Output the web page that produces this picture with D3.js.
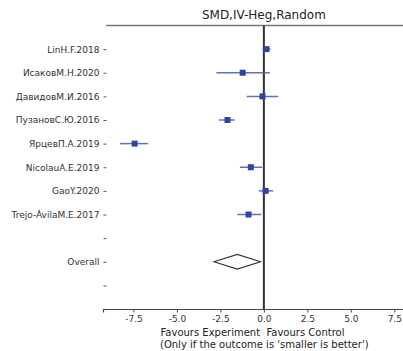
<!DOCTYPE html>
<html><head><meta charset="utf-8">
<script src="https://cdn.jsdelivr.net/npm/d3@7/dist/d3.min.js"></script>
<style>body{margin:0;background:#fff}svg{display:block;font-family:"DejaVu Sans",sans-serif}</style>
</head><body><svg id="c" width="403" height="351"></svg>
<script>
const studies = ["LinH.F.2018","ИсаковМ.Н.2020","ДавидовМ.И.2016","ПузановС.Ю.2016","ЯрцевП.А.2019","NicolauA.E.2019","GaoY.2020","Trejo-ÁvilaM.E.2017"];
const smd   = [0.15, -1.22, -0.08, -2.09, -7.43, -0.75, 0.10, -0.88];
const lower = [-0.08, -2.73, -0.99, -2.59, -8.28, -1.38, -0.30, -1.53];
const upper = [0.38, 0.34, 0.82, -1.67, -6.65, -0.10, 0.53, -0.15];
const overall = {label:"Overall", mean:-1.53, lo:-2.87, hi:-0.19};
const rowLabels = [...studies, "", "Overall", ""];
const xTicks = [-7.5, -5.0, -2.5, 0.0, 2.5, 5.0, 7.5];
const xTickLabels = ["-7.5","-5.0","-2.5","0.0","2.5","5.0","7.5"];
const title = "SMD,IV-Heg,Random";
const xlabel1 = "Favours Experiment  Favours Control";
const xlabel2 = "(Only if the outcome is 'smaller is better')";

const svg = d3.select("#c");
const x = d3.scaleLinear().domain([-9.25, 8.0]).range([103, 403]);
const y = d3.scaleLinear().domain([-1, 11]).range([25.5, 309]);

// top spine
svg.append("line").attr("x1", 106).attr("x2", 403).attr("y1", y(-1)).attr("y2", y(-1))
  .attr("stroke", "#777").attr("stroke-width", 1.4);

// title
svg.append("text").attr("x", x(0)).attr("y", 19).attr("text-anchor","middle")
  .attr("font-size", 12).attr("fill","#222").text(title);

// x axis
const xAxis = d3.axisBottom(x).tickValues(xTicks).tickFormat((d,i)=>xTickLabels[i]).tickSize(3.5).tickPadding(3);
const gx = svg.append("g").attr("transform", `translate(0,${y(11)})`).call(xAxis);
gx.select(".domain").attr("stroke","#444").attr("stroke-width",1.2);
gx.selectAll(".tick line").attr("stroke","#444");
gx.selectAll(".tick text").attr("font-size", 9).attr("fill","#333").attr("font-family","DejaVu Sans");

// y axis labels
const yAxis = d3.axisLeft(y).tickValues(d3.range(rowLabels.length)).tickFormat((d,i)=>rowLabels[i]).tickSize(3).tickPadding(4);
const gy = svg.append("g").attr("transform", `translate(106.5,0)`).call(yAxis);
gy.select(".domain").remove();
gy.selectAll(".tick line").attr("stroke","#555");
gy.selectAll(".tick text").attr("font-size", 9).attr("fill","#333").attr("font-family","DejaVu Sans");

// zero line
svg.append("line").attr("x1", x(0)).attr("x2", x(0)).attr("y1", y(-1)).attr("y2", y(11))
  .attr("stroke", "#333").attr("stroke-width", 2);

// error bars
svg.append("g").selectAll("line").data(studies).join("line")
  .attr("x1",(d,i)=>x(lower[i])).attr("x2",(d,i)=>x(upper[i]))
  .attr("y1",(d,i)=>y(i)).attr("y2",(d,i)=>y(i))
  .attr("stroke","#4558b0").attr("stroke-opacity",0.85).attr("stroke-width",1.5);
svg.append("g").selectAll("rect").data(studies).join("rect")
  .attr("x",(d,i)=>x(smd[i])-3).attr("y",(d,i)=>y(i)-3)
  .attr("width",6).attr("height",6).attr("fill","#2f44a0");

// overall diamond
const oy = y(9), h = 7.3;
svg.append("polygon")
  .attr("points", [[x(overall.lo),oy],[x(overall.mean),oy-h],[x(overall.hi),oy],[x(overall.mean),oy+h]].map(p=>p.join(",")).join(" "))
  .attr("fill","none").attr("stroke","#333").attr("stroke-width",1.1);

// x labels
svg.append("text").attr("x", 160.5).attr("y", 336).attr("text-anchor","start")
  .attr("font-size", 10).attr("fill","#222").style("white-space","pre").text(xlabel1);
svg.append("text").attr("x", 160).attr("y", 347.5).attr("text-anchor","start")
  .attr("font-size", 10).attr("fill","#222").style("white-space","pre").text(xlabel2);
</script></body></html>
